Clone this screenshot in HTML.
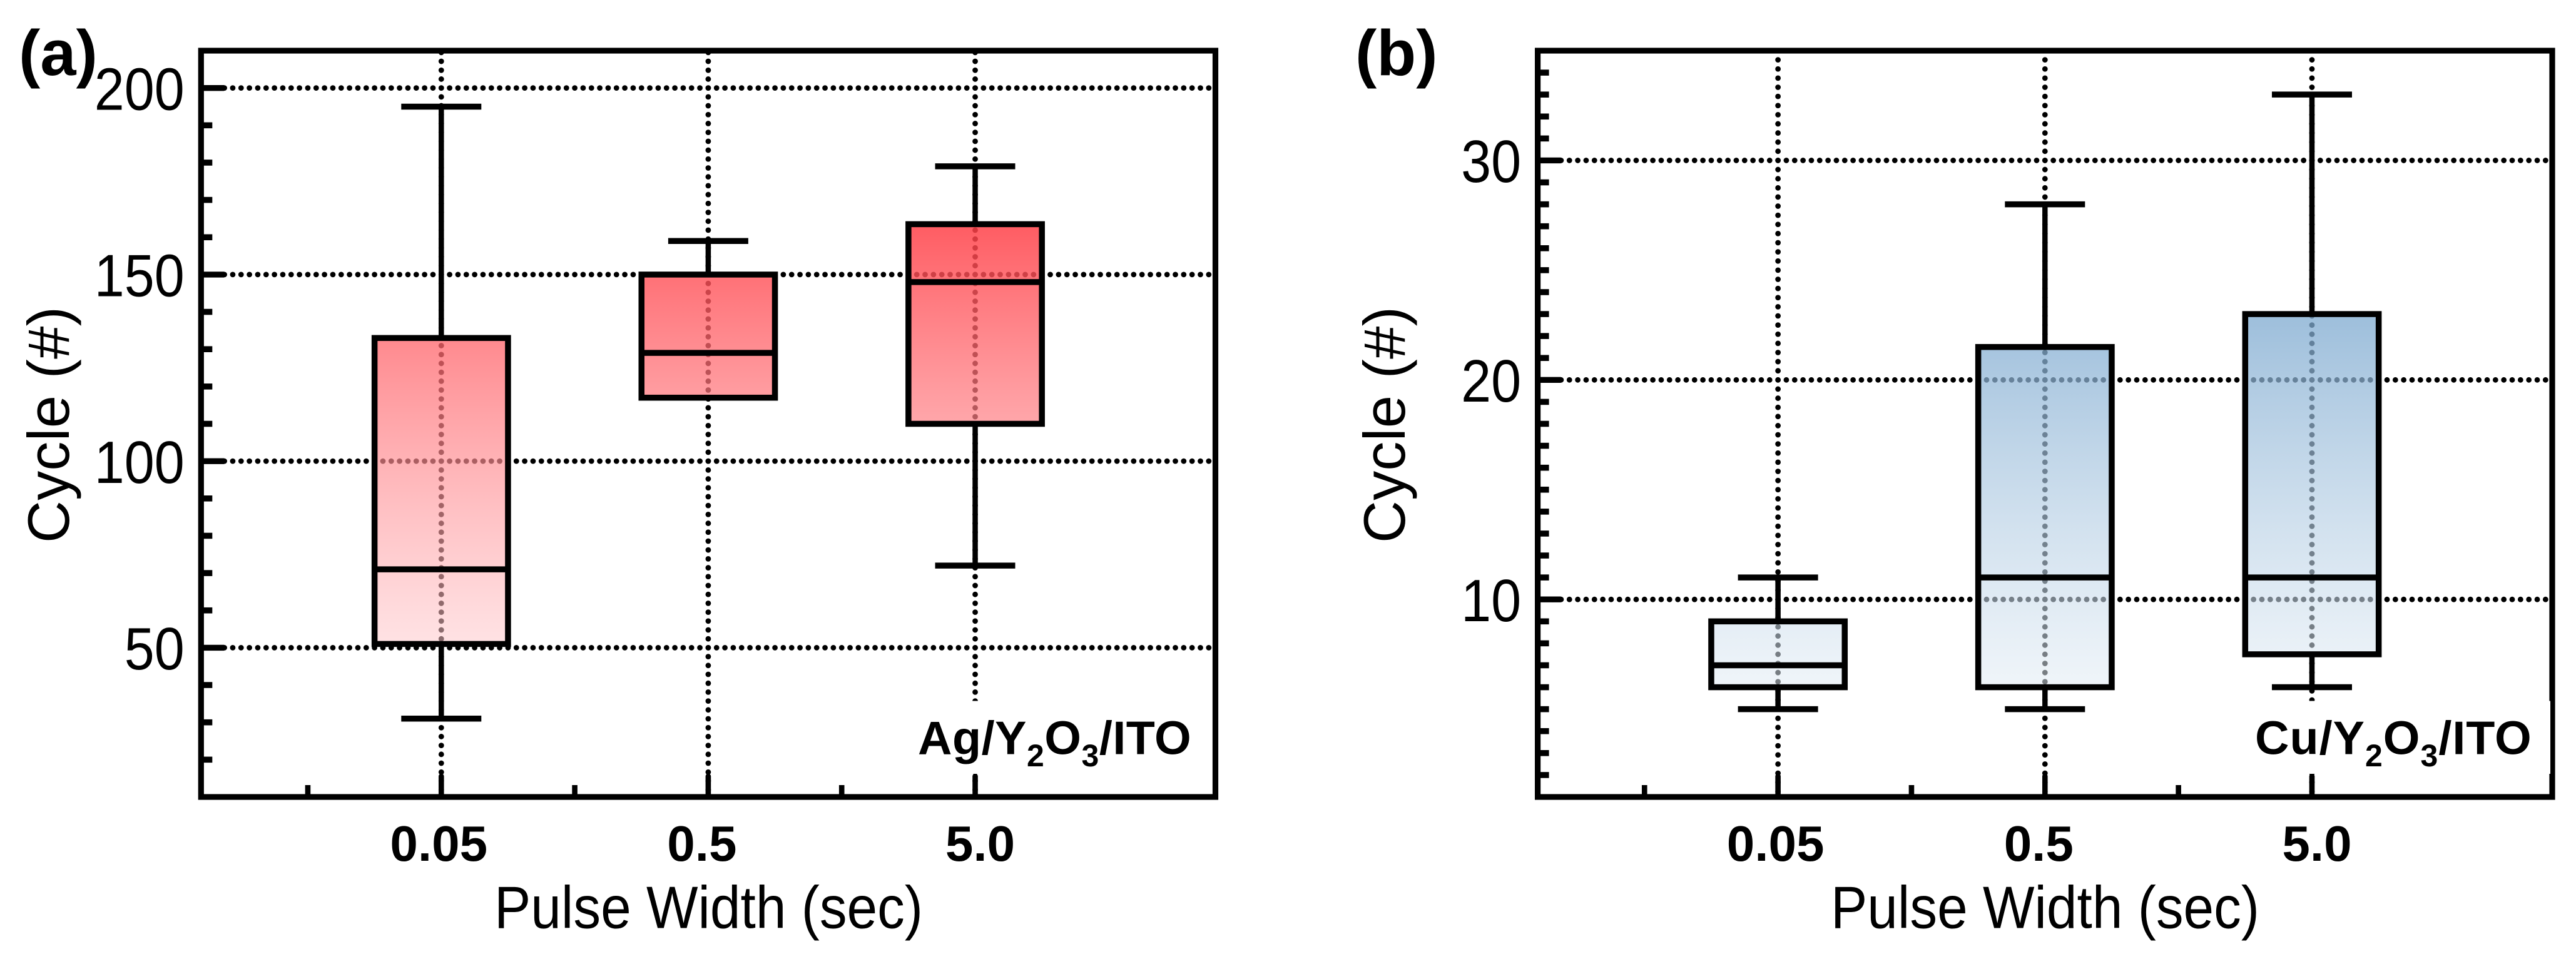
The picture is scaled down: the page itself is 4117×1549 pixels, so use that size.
<!DOCTYPE html>
<html lang="en">
<head>
<meta charset="utf-8">
<title>Cycle vs Pulse Width box plots</title>
<style>
html,body{margin:0;padding:0;background:#fff;}
svg{display:block;}
text{font-family:"Liberation Sans",Arial,sans-serif;fill:#000;}
</style>
</head>
<body>
<svg id="figure" xmlns="http://www.w3.org/2000/svg" width="4117" height="1549" viewBox="0 0 4117 1549">
  <defs>
    <linearGradient id="redFill" gradientUnits="userSpaceOnUse" x1="0" y1="81" x2="0" y2="1274">
      <stop offset="0" stop-color="rgb(255,6,15)" stop-opacity="0.98"/>
      <stop offset="1" stop-color="rgb(255,251,253)" stop-opacity="0.42"/>
    </linearGradient>
    <linearGradient id="blueFill" gradientUnits="userSpaceOnUse" x1="0" y1="81" x2="0" y2="1274">
      <stop offset="0" stop-color="rgb(55,123,182)" stop-opacity="0.92"/>
      <stop offset="1" stop-color="rgb(255,255,255)" stop-opacity="0.46"/>
    </linearGradient>
  </defs>
  <rect x="0" y="0" width="4117" height="1549" fill="#fff"/>
  <g id="panel-a"></g>
  <g id="panel-b"></g>

  <text x="30" y="120" font-size="103" font-weight="700">(a)</text>
  <text x="2166" y="120" font-size="103" font-weight="700">(b)</text>

  <text transform="translate(110,868) rotate(-90)" font-size="94" textLength="378">Cycle (#)</text>
  <text transform="translate(2245,868) rotate(-90)" font-size="94" textLength="378">Cycle (#)</text>

  <text x="790" y="1483.6" font-size="96" textLength="685" lengthAdjust="spacingAndGlyphs">Pulse Width (sec)</text>
  <text x="2926" y="1483.6" font-size="96" textLength="685" lengthAdjust="spacingAndGlyphs">Pulse Width (sec)</text>

  <text x="1467" y="1205.5" font-size="75.5" font-weight="700" letter-spacing="0.5">Ag/Y<tspan font-size="50" dy="19.5">2</tspan><tspan dy="-19.5">O</tspan><tspan font-size="50" dy="19.5">3</tspan><tspan dy="-19.5">/ITO</tspan></text>
  <text x="3604" y="1205.5" font-size="75.5" font-weight="700" letter-spacing="1">Cu/Y<tspan font-size="50" dy="19.5">2</tspan><tspan dy="-19.5">O</tspan><tspan font-size="50" dy="19.5">3</tspan><tspan dy="-19.5">/ITO</tspan></text>
</svg>

<script>
const categories = ['0.05', '0.5', '5.0'];

const agWhiskerHigh = [195, 159, 179];
const agQ3 = [133, 150, 163.5];
const agMedian = [71, 129, 148];
const agQ1 = [51, 117, 110];
const agWhiskerLow = [31, 117, 72];
const agYTicks = [50, 100, 150, 200];

const cuWhiskerHigh = [11, 28, 33];
const cuQ3 = [9, 21.5, 23];
const cuMedian = [7, 11, 11];
const cuQ1 = [6, 6, 7.5];
const cuWhiskerLow = [5, 5, 6];
const cuYTicks = [10, 20, 30];

const SVG_NS = 'http://www.w3.org/2000/svg';

function make(tag, attrs, parent) {
  const el = document.createElementNS(SVG_NS, tag);
  for (const key in attrs) el.setAttribute(key, attrs[key]);
  parent.appendChild(el);
  return el;
}

function drawPanel(cfg) {
  const root = document.getElementById(cfg.id);
  const p = cfg.prefix;
  const top = 81, bottom = 1274;
  const left = cfg.left, right = cfg.right;

  const xUnit = (right - left) / 3.8;
  const x = (i) => left + (i + 1 - 0.1) * xUnit;
  const y = (v) => bottom - (v - cfg.yMin) / (cfg.yMax - cfg.yMin) * (bottom - top);

  const pitchX = xUnit / 32;
  const refY = y(cfg.yTicks[0]);
  const pitchY = (y(cfg.yTicks[0]) - y(cfg.yTicks[1])) / cfg.dotsPerMajor;
  const xStart = x(0) - Math.floor((x(0) - left) / pitchX) * pitchX;
  const yStart = refY - Math.floor((refY - top) / pitchY) * pitchY;

  const dotStyle = {
    stroke: '#000',
    'stroke-width': 8.8,
    'stroke-linecap': 'round',
    fill: 'none'
  };

  // horizontal grid
  cfg.yTicks.forEach((t) => {
    const el = make('line', Object.assign({
      x1: xStart, x2: right, y1: y(t), y2: y(t),
      'stroke-dasharray': '0 ' + pitchX
    }, dotStyle), root);
    
    
  });

  // vertical grid
  categories.forEach((c, i) => {
    const el = make('line', Object.assign({
      x1: x(i), x2: x(i), y1: yStart, y2: bottom,
      'stroke-dasharray': '0 ' + pitchY
    }, dotStyle), root);
    
    
  });

  // y major ticks and labels
  cfg.yTicks.forEach((t) => {
    const tick = make('line', {
      x1: left + 4, x2: left + 37, y1: y(t), y2: y(t),
      stroke: '#000', 'stroke-width': 9.4
    }, root);
    
    

    const label = make('text', {
      x: left - 26.5, y: y(t) + 34.7,
      'text-anchor': 'end',
      'font-size': 96,
      textLength: String(t).length * 48,
      lengthAdjust: 'spacingAndGlyphs'
    }, root);
    label.textContent = String(t);
    
    
  });

  // y minor ticks
  for (let v = cfg.yMin + cfg.minorStep; v < cfg.yMax; v += cfg.minorStep) {
    if (cfg.yTicks.indexOf(v) !== -1) continue;
    const minor = make('line', {
      x1: left + 4, x2: left + 18, y1: y(v), y2: y(v),
      stroke: '#000', 'stroke-width': 9.6
    }, root);
    
    
  }

  // x minor ticks (halfway between the categories)
  [-0.5, 0.5, 1.5].forEach((pos) => {
    const minor = make('line', {
      x1: x(pos), x2: x(pos), y1: bottom - 19, y2: bottom - 4,
      stroke: '#000', 'stroke-width': 8.6
    }, root);
    
    
  });

  // x major ticks and labels
  const labelNudge = [-4, -10, 8];
  categories.forEach((c, i) => {
    const tick = make('line', {
      x1: x(i), x2: x(i), y1: bottom - 33, y2: bottom - 4,
      stroke: '#000', 'stroke-width': 8.6, 'stroke-linecap': 'round'
    }, root);
    
    

    const label = make('text', {
      x: x(i) + labelNudge[i], y: 1376,
      'text-anchor': 'middle',
      'font-size': 80,
      'font-weight': 700
    }, root);
    label.textContent = c;
    
    
  });

  // box plots
  const boxW = xUnit * 0.5;
  const capW = xUnit * 0.3;
  categories.forEach((c, i) => {
    const group = make('g', {}, root);
    
    

    const whiskerUp = make('line', {
      x1: x(i), x2: x(i), y1: y(cfg.high[i]), y2: y(cfg.q3[i]),
      stroke: '#000', 'stroke-width': 8.5
    }, group);
    
    

    const whiskerDown = make('line', {
      x1: x(i), x2: x(i), y1: y(cfg.q1[i]), y2: y(cfg.low[i]),
      stroke: '#000', 'stroke-width': 8.5
    }, group);
    
    

    const capHigh = make('line', {
      x1: x(i) - capW / 2, x2: x(i) + capW / 2, y1: y(cfg.high[i]), y2: y(cfg.high[i]),
      stroke: '#000', 'stroke-width': 9.5
    }, group);
    
    

    const capLow = make('line', {
      x1: x(i) - capW / 2, x2: x(i) + capW / 2, y1: y(cfg.low[i]), y2: y(cfg.low[i]),
      stroke: '#000', 'stroke-width': 9.5
    }, group);
    
    

    const box = make('rect', {
      x: x(i) - boxW / 2,
      y: y(cfg.q3[i]),
      width: boxW,
      height: y(cfg.q1[i]) - y(cfg.q3[i]),
      fill: 'url(#' + cfg.fill + ')',
      stroke: '#000',
      'stroke-width': 9.5
    }, group);
    
    

    const median = make('line', {
      x1: x(i) - boxW / 2, x2: x(i) + boxW / 2, y1: y(cfg.median[i]), y2: y(cfg.median[i]),
      stroke: '#000', 'stroke-width': 9.5
    }, group);
    
    
  });

  // plot frame
  const frame = make('rect', {
    x: left, y: top, width: right - left, height: bottom - top,
    fill: 'none', stroke: '#000', 'stroke-width': 9.2
  }, root);
  
  

  // white backing behind the device label
  const backing = make('rect', {
    x: cfg.maskLeft, y: 1120.5, width: cfg.maskRight - cfg.maskLeft, height: 116.5,
    fill: '#fff'
  }, root);
  
  
}

drawPanel({
  id: 'panel-a', prefix: 'ag', left: 321.3, right: 1942.5,
  yMin: 10, yMax: 210, minorStep: 10, dotsPerMajor: 21,
  yTicks: agYTicks,
  high: agWhiskerHigh, q3: agQ3, median: agMedian, q1: agQ1, low: agWhiskerLow,
  fill: 'redFill', maskLeft: 1460, maskRight: 1937
});

drawPanel({
  id: 'panel-b', prefix: 'cu', left: 2457.6, right: 4079,
  yMin: 1, yMax: 35, minorStep: 1, dotsPerMajor: 24,
  yTicks: cuYTicks,
  high: cuWhiskerHigh, q3: cuQ3, median: cuMedian, q1: cuQ1, low: cuWhiskerLow,
  fill: 'blueFill', maskLeft: 3596, maskRight: 4076
});
</script>
</body>
</html>
